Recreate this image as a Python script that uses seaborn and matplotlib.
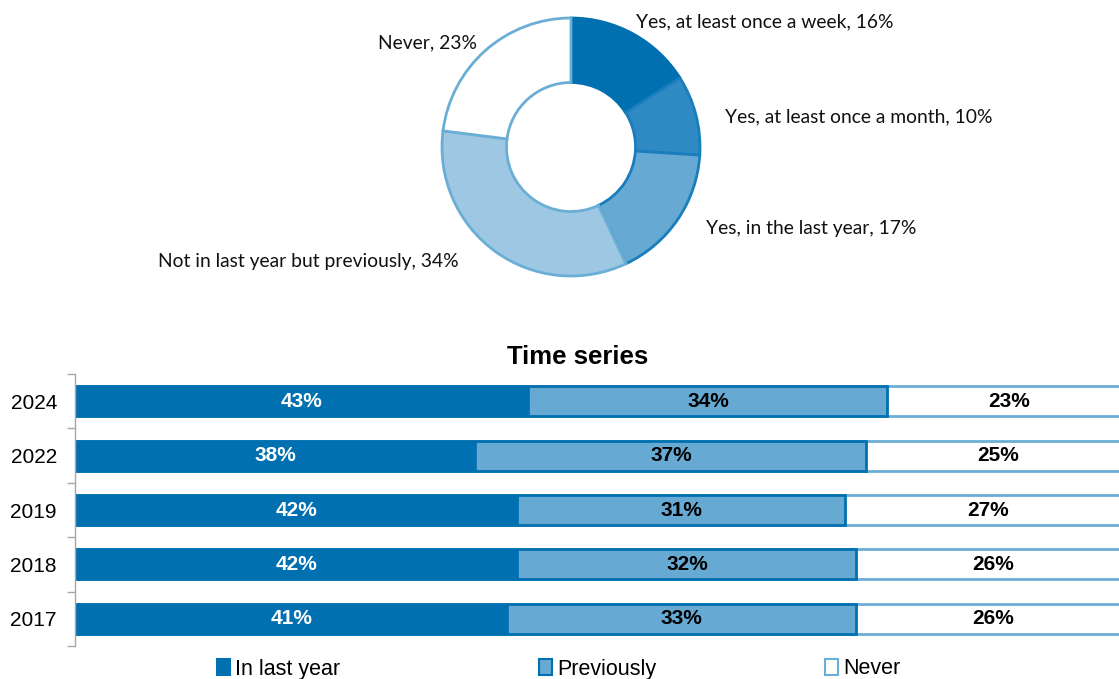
import matplotlib
matplotlib.use("Agg")
import matplotlib.pyplot as plt
from matplotlib.patches import Patch
import numpy as np
import seaborn as sns

# Donut: frequency breakdown for the latest year
donut_labels = [
    "Yes, at least once a week",
    "Yes, at least once a month",
    "Yes, in the last year",
    "Not in last year but previously",
    "Never",
]
donut_values = [16, 10, 17, 34, 23]
donut_colors = ["#0070B0", "#2F8AC4", "#66AAD4", "#9DC7E3", "#FFFFFF"]
donut_edges = ["#0070B0", "#1A7DBC", "#1A7DBC", "#6AAED6", "#6AAED6"]
# label anchors in donut units (radius = 1) and their alignment
label_pos = [(0.50, 0.97), (1.19, 0.23), (1.05, -0.63), (-0.87, -0.89), (-0.73, 0.81)]
label_ha = ["left", "left", "left", "right", "right"]

# Time series: stacked shares per survey year
years = ["2024", "2022", "2019", "2018", "2017"]
in_last_year = [43, 38, 42, 42, 41]
previously = [34, 37, 31, 32, 33]
never = [23, 25, 27, 26, 26]
series_names = ["In last year", "Previously", "Never"]

DARK = "#0070B0"
MID = "#66AAD4"
LIGHT_EDGE = "#6AAED6"

sns.set_theme(style="white")
plt.rcParams["font.family"] = ["Liberation Sans", "DejaVu Sans"]
plt.rcParams["text.color"] = "black"

W, H = 1119, 679
fig = plt.figure(figsize=(W / 100, H / 100), dpi=100)
fig.patch.set_facecolor("white")

# ---- donut ----
cx, cy, r = 571, 147, 129
ax_pie = fig.add_axes([(cx - r) / W, (H - cy - r) / H, 2 * r / W, 2 * r / H])
wedges, _ = ax_pie.pie(
    donut_values,
    colors=donut_colors,
    startangle=90,
    counterclock=False,
    wedgeprops=dict(width=0.5, linewidth=2),
)
for w, ec in zip(wedges, donut_edges):
    w.set_edgecolor(ec)
for lab, v, (lx, ly), ha in zip(donut_labels, donut_values, label_pos, label_ha):
    ax_pie.text(lx, ly, f"{lab}, {v}%", ha=ha, va="center", fontsize=13.9,
                family=["Lato", "DejaVu Sans"], color="#111111")
ax_pie.set_xlim(-1, 1)
ax_pie.set_ylim(-1, 1)
ax_pie.set_aspect("equal")

# ---- stacked bars ----
x0, x1 = 75, 1130
top, bot = 374, 646
ax = fig.add_axes([x0 / W, (H - bot) / H, (x1 - x0) / W, (bot - top) / H])

cum1 = np.array(in_last_year)
cum2 = cum1 + np.array(previously)
cum3 = cum2 + np.array(never)

sns.barplot(x=cum3, y=years, orient="h", color="white", saturation=1,
            width=0.55, edgecolor=LIGHT_EDGE, linewidth=2, ax=ax)
sns.barplot(x=cum2, y=years, orient="h", color=MID, saturation=1,
            width=0.55, edgecolor=DARK, linewidth=2, ax=ax)
sns.barplot(x=cum1, y=years, orient="h", color=DARK, saturation=1,
            width=0.55, edgecolor=DARK, linewidth=0.5, ax=ax)

lab_font = dict(fontsize=15, fontweight="bold", ha="center", va="center")
for i in range(len(years)):
    ax.text(cum1[i] / 2, i, f"{in_last_year[i]}%", color="white", **lab_font)
    ax.text((cum1[i] + cum2[i]) / 2, i, f"{previously[i]}%", color="black", **lab_font)
    ax.text((cum2[i] + cum3[i]) / 2, i, f"{never[i]}%", color="black", **lab_font)

ax.set_xlim(0, 100)
ax.set_ylim(len(years) - 0.5, -0.5)
ax.set_xlabel("")
ax.set_ylabel("")
ax.set_xticks([])
ax.set_yticks(range(len(years)))
ax.set_yticklabels(years, fontsize=15, color="black")
ax.set_yticks(np.arange(-0.5, len(years)), minor=True)
ax.tick_params(axis="y", which="major", length=0, pad=13, labelcolor="black")
ax.tick_params(axis="y", which="minor", length=6, width=1, color="#A6A6A6", left=True)
for s in ["top", "right", "bottom"]:
    ax.spines[s].set_visible(False)
ax.spines["left"].set_color("#A6A6A6")
ax.spines["left"].set_linewidth(1)
ax.set_facecolor("none")

fig.text(578 / W, 1 - 357 / H, "Time series", ha="center", va="center",
         fontsize=18.5, fontweight="bold", color="black")

# legend entries, one small legend per series
handles = [
    Patch(facecolor=DARK, edgecolor=DARK, linewidth=1.5),
    Patch(facecolor=MID, edgecolor=DARK, linewidth=1.5),
    Patch(facecolor="white", edgecolor=LIGHT_EDGE, linewidth=1.5),
]
legend_x = [217, 539, 825]
for h, name, lx in zip(handles, series_names, legend_x):
    fig.legend([h], [name], loc="center left",
               bbox_to_anchor=(lx / W, 1 - 669 / H), frameon=False,
               fontsize=15.5, handlelength=0.6, handleheight=0.7,
               handletextpad=0.25, borderpad=0, borderaxespad=0,
               labelcolor="black")

fig.savefig("out.png", dpi=100, facecolor="white")
